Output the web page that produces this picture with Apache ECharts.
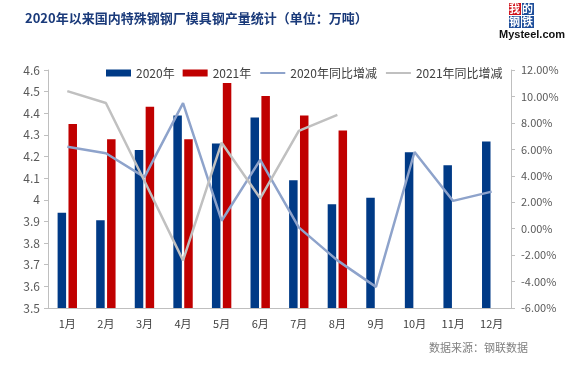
<!DOCTYPE html>
<html>
<head>
<meta charset="utf-8">
<script src="https://cdn.jsdelivr.net/npm/echarts@6/dist/echarts.min.js"></script>
<style>html,body{margin:0;padding:0;background:#fff}#c{width:566px;height:365px}</style>
</head>
<body>
<div id="c"></div>
<script>
const categories = ['1月','2月','3月','4月','5月','6月','7月','8月','9月','10月','11月','12月'];
const output2020 = [3.94, 3.905, 4.23, 4.39, 4.26, 4.38, 4.09, 3.98, 4.01, 4.22, 4.16, 4.27];
const output2021 = [4.35, 4.28, 4.43, 4.28, 4.54, 4.48, 4.39, 4.32, null, null, null, null];
const yoy2020 = [6.2, 5.7, 3.9, 9.5, 0.6, 5.2, 0.1, -2.4, -4.4, 5.8, 2.1, 2.8];
const yoy2021 = [10.4, 9.5, 3.6, -2.4, 6.5, 2.3, 7.4, 8.6, null, null, null, null];
const leftTicks = {min: 3.5, max: 4.6, interval: 0.1};
const rightTicks = {min: -6, max: 12, interval: 2};

const chart = echarts.init(document.getElementById('c'), null, {renderer: 'canvas'});
const font = '"Noto Sans CJK SC", "Noto Sans", sans-serif';
chart.setOption({
  animation: false,
  backgroundColor: '#fff',
  textStyle: {fontFamily: font},
  title: {
    text: '2020年以来国内特殊钢钢厂模具钢产量统计（单位：万吨）',
    left: 20, top: 7,
    textStyle: {fontSize: 13, fontWeight: 'bold', color: '#1a3a7a', fontFamily: font}
  },
  legend: {
    top: 62, left: 101,
    itemWidth: 25, itemHeight: 7, itemGap: 8,
    textStyle: {fontSize: 12, color: '#404040', fontFamily: font},
    data: [
      {name: '2020年', icon: 'rect'},
      {name: '2021年', icon: 'rect'},
      {name: '2020年同比增减', itemStyle: {opacity: 0}},
      {name: '2021年同比增减', itemStyle: {opacity: 0}}
    ]
  },
  grid: {left: 48, right: 55, top: 70, bottom: 57},
  xAxis: {
    type: 'category',
    data: categories,
    boundaryGap: true,
    axisLine: {onZero: false, lineStyle: {color: '#bfbfbf'}},
    axisTick: {show: false},
    axisLabel: {fontSize: 11, color: '#404040', margin: 10}
  },
  yAxis: [
    {
      type: 'value', min: leftTicks.min, max: leftTicks.max, interval: leftTicks.interval,
      axisLine: {show: true, lineStyle: {color: '#bfbfbf'}},
      axisTick: {show: true, length: 4, lineStyle: {color: '#bfbfbf'}},
      splitLine: {show: false},
      axisLabel: {fontSize: 12, color: '#595959', margin: 8}
    },
    {
      type: 'value', min: rightTicks.min, max: rightTicks.max, interval: rightTicks.interval,
      position: 'right',
      axisLine: {show: true, lineStyle: {color: '#bfbfbf'}},
      axisTick: {show: true, length: 4, lineStyle: {color: '#bfbfbf'}},
      splitLine: {show: false},
      axisLabel: {fontSize: 11, color: '#595959', margin: 10, formatter: v => v.toFixed(2) + '%'}
    }
  ],
  series: [
    {name: '2020年', type: 'bar', data: output2020, barWidth: 8.5, barGap: '28%',
     itemStyle: {color: '#003a86'}},
    {name: '2021年', type: 'bar', data: output2021, barWidth: 8.5,
     itemStyle: {color: '#c00000'}},
    {name: '2020年同比增减', type: 'line', yAxisIndex: 1, data: yoy2020,
     symbol: 'none', lineStyle: {color: '#8ea3cb', width: 2.5}, itemStyle: {color: '#8ea3cb'}},
    {name: '2021年同比增减', type: 'line', yAxisIndex: 1, data: yoy2021,
     symbol: 'none', lineStyle: {color: '#c0c0c0', width: 2.5}, itemStyle: {color: '#c0c0c0'}}
  ],
  graphic: [
    {type: 'rect', left: 509, top: 3, shape: {width: 12, height: 12}, style: {fill: '#d0121b'}},
    {type: 'text', left: 509, top: 3, style: {text: '我', fill: '#fff', font: 'bold 11px ' + font}},
    {type: 'rect', left: 522, top: 3, shape: {width: 12, height: 12}, style: {fill: '#1f4e9a'}},
    {type: 'text', left: 522, top: 3, style: {text: '的', fill: '#fff', font: 'bold 11px ' + font}},
    {type: 'rect', left: 509, top: 16, shape: {width: 12, height: 12}, style: {fill: '#1f4e9a'}},
    {type: 'text', left: 509, top: 16, style: {text: '钢', fill: '#fff', font: 'bold 11px ' + font}},
    {type: 'rect', left: 522, top: 16, shape: {width: 12, height: 12}, style: {fill: '#1f4e9a'}},
    {type: 'text', left: 522, top: 16, style: {text: '铁', fill: '#fff', font: 'bold 11px ' + font}},
    {type: 'text', left: 499, top: 29, style: {text: 'Mysteel.com', fill: '#111', font: 'bold 11px "Liberation Sans", sans-serif'}},
    {type: 'text', right: 38, top: 342, style: {text: '数据来源：钢联数据', fill: '#7f7f7f', font: '11px ' + font}}
  ]
});
</script>
</body>
</html>
